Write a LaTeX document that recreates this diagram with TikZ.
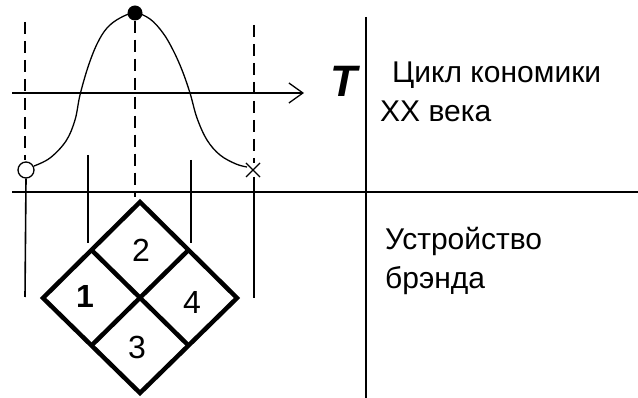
\documentclass[tikz,border=0pt]{standalone}
\usepackage{fontspec}
\setmainfont{Liberation Sans}
\usetikzlibrary{arrows.meta,calc}
\tikzset{
  thinln/.style={line width=1.6pt},
  dashln/.style={line width=1.6pt, dash pattern=on 12pt off 7pt},
  diamondln/.style={line width=4.5pt, line join=miter},
  curveln/.style={line width=1.3pt},
  lbl/.style={anchor=base west, inner sep=0pt, font=\fontsize{30}{30}\selectfont},
  num/.style={inner sep=0pt, font=\fontsize{32}{32}\selectfont},
}
\begin{document}
\begin{tikzpicture}[x=1pt,y=-1pt]
\useasboundingbox (0,0) rectangle (638,398);
% frame lines
\coordinate (axL) at (12,93);
\coordinate (axR) at (304,93);
\coordinate (hL) at (12,192);
\coordinate (hR) at (638,192);
\coordinate (vT) at (366,17);
\coordinate (vB) at (366,398);
\draw[thinln] (hL) -- (hR);
\draw[thinln] (vT) -- (vB);
\draw[thinln, -{Straight Barb[length=14pt,width=20pt,line width=1.3pt]}] (axL) -- (axR);
% markers
\node[draw, circle, line width=1.3pt, minimum size=16pt, inner sep=0pt, fill=white] (start) at (26,170) {};
\node[circle, fill=black, minimum size=15pt, inner sep=0pt] (peak) at (135,13) {};
\coordinate (endp) at (253,170);
\draw[line width=1.3pt] ($(endp)+(-7,-7)$) -- ($(endp)+(7,7)$);
\draw[line width=1.3pt] ($(endp)+(-7,7)$) -- ($(endp)+(7,-7)$);
% dashed verticals
\coordinate (d1t) at (25,22);
\coordinate (d1b) at (25,160);
\coordinate (d2b) at (135,197);
\coordinate (d3t) at (254,25);
\coordinate (d3b) at (254,163);
\draw[dashln] (d1t) -- (d1b);
\draw[dashln] (peak.south) -- (d2b);
\draw[dashln] (d3t) -- (d3b);
% solid verticals
\coordinate (s1b) at (25,297);
\coordinate (s2t) at (88,155);
\coordinate (s2b) at (88,243);
\coordinate (s3t) at (191,160);
\coordinate (s3b) at (191,243);
\coordinate (s4t) at (254,177);
\coordinate (s4b) at (254,298);
\draw[thinln] (start.south) -- (s1b);
\draw[thinln] (s2t) -- (s2b);
\draw[thinln] (s3t) -- (s3b);
\draw[thinln] (s4t) -- (s4b);
% curve
\draw[curveln] plot[smooth, tension=0.6] coordinates {(34,166) (50,158) (66,141) (75,120) (80,95) (88,67) (97,44) (107,28) (120,18) (135,13) (150,19) (163,33) (173,50) (182,70) (190,93) (197,118) (207,140) (220,155) (236,164) (247,167)};
% diamond
\coordinate (dt) at (140,202);
\coordinate (dl) at (43,298);
\coordinate (db) at (140,393);
\coordinate (dr) at (237,298);
\draw[diamondln] (dt) -- (dr) -- (db) -- (dl) -- cycle;
\draw[diamondln] ($(dt)!0.5!(dl)$) -- ($(dr)!0.5!(db)$);
\draw[diamondln] ($(dt)!0.5!(dr)$) -- ($(dl)!0.5!(db)$);
\node[num] (n2) at (141,250) {2};
\node[num, font=\fontsize{32}{32}\selectfont\bfseries] (n1) at (85,296) {1};
\node[num] (n4) at (192,302) {4};
\node[num] (n3) at (137,347) {3};
% labels
\node[anchor=base, inner sep=0pt, font=\fontsize{44}{44}\selectfont\bfseries\itshape] (T) at (344,97) {T};
\node[lbl] (c1) at (392,83) {Цикл кономики};
\node[lbl] (c2) at (380,122) {XX века};
\node[lbl] (b1) at (385,250) {Устройство};
\node[lbl] (b2) at (385,289) {брэнда};
\end{tikzpicture}
\end{document}
